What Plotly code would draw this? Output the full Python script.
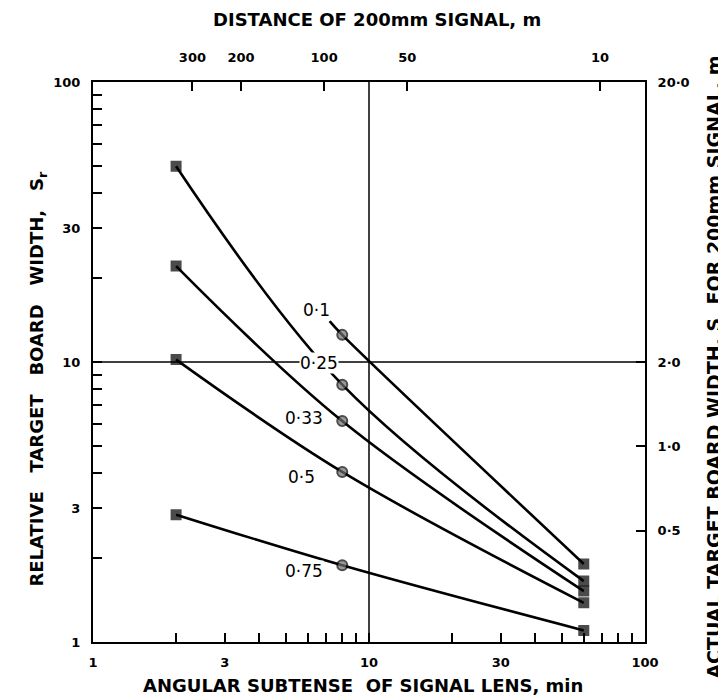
import math
import plotly.graph_objects as go

# ---------------- data ----------------
curve_names = ["0·1", "0·25", "0·33", "0·5", "0·75"]

x_01 = [7.2, 8, 60]
y_01 = [14.0, 12.5, 1.9]

x_025 = [2, 8, 60]
y_025 = [50.0, 8.3, 1.65]

x_033 = [2, 8, 60]
y_033 = [22.0, 6.15, 1.52]

x_05 = [2, 8, 60]
y_05 = [10.2, 4.05, 1.38]

x_075 = [2, 8, 60]
y_075 = [2.85, 1.88, 1.1]

# label anchor positions (data coordinates)
label_x = [6.45, 6.6, 5.8, 5.7, 5.8]
label_y = [15.3, 9.9, 6.3, 3.9, 1.8]

# axes
bottom_ticks = [1, 2, 3, 4, 5, 6, 7, 8, 9, 10, 20, 30, 40, 50, 60, 70, 80, 90, 100]
bottom_labelled = [1, 3, 10, 30, 100]
left_ticks = bottom_ticks
left_labelled = [1, 3, 10, 30, 100]
distance_ticks_m = [300, 200, 100, 50, 10]      # top axis (distance of 200 mm signal)
actual_width_ticks_m = [20.0, 2.0, 1.0, 0.5]     # right axis (S for 200 mm signal)
actual_width_text = ["20·0", "2·0", "1·0", "0·5"]
signal_diameter_m = 0.2
reference_lines = [10]

# ---------------- figure ----------------
FONT = "DejaVu Sans"
fig = go.Figure()

curves = [(x_01, y_01), (x_025, y_025), (x_033, y_033), (x_05, y_05), (x_075, y_075)]
for name, (xs, ys) in zip(curve_names, curves):
    fig.add_trace(go.Scatter(
        x=xs, y=ys, mode="lines", line=dict(color="black", width=2.6, shape="spline", smoothing=1.0),
        showlegend=False, hoverinfo="skip"))
    symbols = ["square", "circle", "square"]
    sizes = [9, 10, 9]
    if name == "0·1":
        sizes = [0, 10, 9]
    colors = ["black", "#6e6e6e", "black"]
    fig.add_trace(go.Scatter(
        x=xs, y=ys, mode="markers",
        marker=dict(symbol=symbols, size=sizes, color=colors, line=dict(color="black", width=2)),
        showlegend=False, name=name))

# invisible trace to hold top/right axes
fig.add_trace(go.Scatter(x=[None], y=[None], xaxis="x2", yaxis="y2", showlegend=False, hoverinfo="skip"))

# reference lines at 10
for v in reference_lines:
    fig.add_shape(type="line", xref="x", yref="paper", x0=v, x1=v, y0=0, y1=1,
                  line=dict(color="black", width=1.5), layer="below")
    fig.add_shape(type="line", xref="paper", yref="y", x0=0, x1=1, y0=v, y1=v,
                  line=dict(color="black", width=1.5), layer="below")

# curve labels
for name, lx, ly in zip(curve_names, label_x, label_y):
    fig.add_annotation(x=math.log10(lx), y=math.log10(ly), xref="x", yref="y", text=name,
                       showarrow=False, font=dict(family=FONT, size=17, color="black"),
                       bgcolor="white", borderpad=0, xanchor="center", yanchor="middle")

def tt(vals, labelled):
    return ["<b>%g</b>" % v if v in labelled else "" for v in vals]

top_vals = [signal_diameter_m / d * 180 / math.pi * 60 for d in distance_ticks_m]
right_vals = [s / signal_diameter_m for s in actual_width_ticks_m]

axis_common = dict(type="log", range=[0, 2], showgrid=False, zeroline=False,
                   showline=True, linecolor="black", linewidth=2,
                   ticks="inside", ticklen=9, tickwidth=1.5, tickcolor="black",
                   tickfont=dict(family=FONT, size=13, color="black"))

fig.update_layout(
    width=726, height=699,
    margin=dict(l=85, r=89, t=74, b=65),
    paper_bgcolor="white", plot_bgcolor="white",
    xaxis=dict(**axis_common, tickvals=bottom_ticks, ticktext=tt(bottom_ticks, bottom_labelled),
               ticklabelstandoff=7),
    yaxis=dict(**axis_common, tickvals=left_ticks, ticktext=tt(left_ticks, left_labelled),
               ticklabelstandoff=8),
    xaxis2=dict(**axis_common, overlaying="x", side="top", anchor="y2",
                tickvals=top_vals, ticktext=["<b>%d</b>" % d for d in distance_ticks_m],
                ticklabelstandoff=13),
    yaxis2=dict(**axis_common, overlaying="y", side="right", anchor="x2",
                tickvals=right_vals, ticktext=["<b>%s</b>" % t for t in actual_width_text],
                ticklabelstandoff=8),
)

NB = "\u00a0"
GAP = " " + NB + NB
title_font = dict(family=FONT, size=18, color="black")
fig.add_annotation(xref="paper", yref="paper", x=0.514, y=1.112, xanchor="center", yanchor="middle",
                   text="<b>DISTANCE OF 200mm SIGNAL, m</b>", showarrow=False, font=title_font)
fig.add_annotation(xref="paper", yref="paper", x=0.489, y=-0.0768, xanchor="center", yanchor="middle",
                   text="<b>ANGULAR SUBTENSE" + NB + " OF SIGNAL LENS, min</b>", showarrow=False, font=title_font)
fig.add_annotation(xref="paper", yref="paper", x=-0.1, y=0.47, xanchor="center", yanchor="middle",
                   text="<b>RELATIVE" + GAP + "TARGET" + GAP + "BOARD" + GAP + "WIDTH," + GAP + "S<sub>r</sub></b>",
                   showarrow=False, font=dict(family=FONT, size=18, color="black"), textangle=-90)
fig.add_annotation(xref="paper", yref="paper", x=1.125, y=0.49, xanchor="center", yanchor="middle",
                   text="<b>ACTUAL TARGET BOARD WIDTH, S" + NB + " FOR 200mm SIGNAL, m</b>",
                   showarrow=False, font=dict(family=FONT, size=19, color="black"), textangle=-90)

fig.write_html("out.html")
